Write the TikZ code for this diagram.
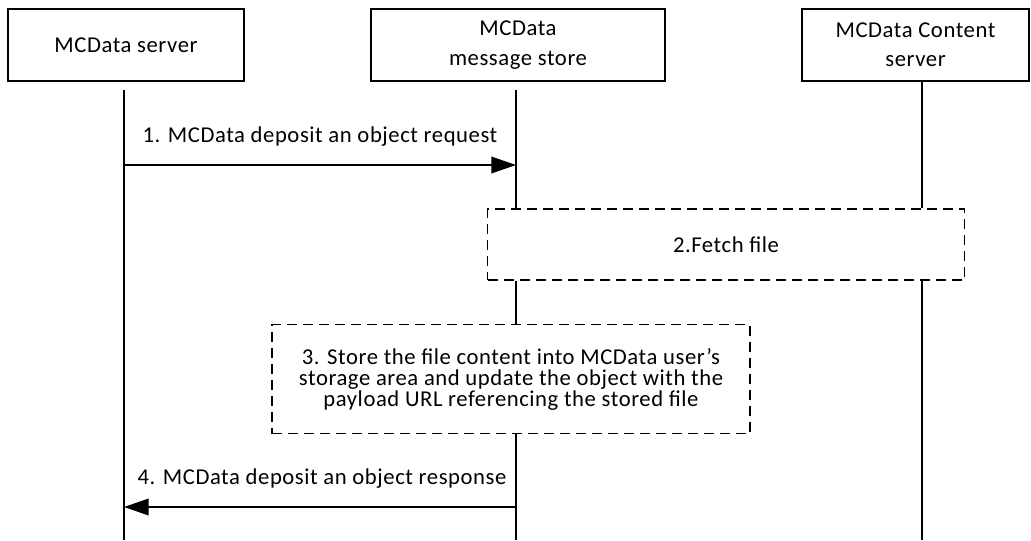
\documentclass[tikz,border=0pt]{standalone}
\usepackage{fontspec}
\setmainfont{Carlito}[LetterSpace=2.5]
\usetikzlibrary{arrows.meta}

\tikzset{
  actor/.style={draw, line width=1.1pt, align=center, inner sep=0pt,
    minimum height=54pt, font=\fontsize{17}{22}\selectfont},
  stepbox/.style={draw, line width=1.2pt, dash pattern=on 7.5pt off 4.5pt,
    align=center, inner sep=0pt, font=\fontsize{17}{15.75}\selectfont},
  life/.style={line width=1.1pt},
  msg/.style={line width=1.1pt, -{Triangle[length=18.5pt, width=12.5pt]}},
  lbl/.style={inner sep=0pt, font=\fontsize{17}{20}\selectfont}
}

\begin{document}
\begin{tikzpicture}[x=0.75pt, y=-0.75pt]
  \useasboundingbox (0,0) rectangle (1031,540);
  % participants
  \node[actor, minimum width=177pt] (srv) at (126,45) {MCData server};
  \node[actor, minimum width=220.5pt] (store) at (518,45) {MCData\\message store};
  \node[actor, minimum width=170pt] (cnt) at (915.5,45) {MCData Content\\server};
  % steps
  \node[stepbox, minimum width=357.75pt, minimum height=53.25pt] (fetch) at (726,244.5) {2.Fetch file};
  \node[stepbox, minimum width=358.5pt, minimum height=81.75pt] (keep) at (511,379)
    {3. Store the file content into MCData user’s\\storage area and update the object with the\\payload URL referencing the stored file};
  % lifelines
  \coordinate (a0) at (124,90);
  \coordinate (a1) at (124,540);
  \coordinate (b0) at (516,90);
  \coordinate (c0) at (922,81);
  \draw[life] (a0) -- (a1);
  \draw[life] (b0) -- (b0 |- fetch.north);
  \draw[life] (b0 |- fetch.south) -- (b0 |- keep.north);
  \draw[life] (b0 |- keep.south) -- (b0 |- a1);
  \draw[life] (c0) -- (c0 |- fetch.north);
  \draw[life] (c0 |- fetch.south) -- (c0 |- a1);
  % messages
  \node[lbl] (req) at (320,137) {1. MCData deposit an object request};
  \coordinate (r1) at (124,165);
  \coordinate (r2) at (516,165);
  \draw[msg] (r1) -- (r2);
  \node[lbl] (resp) at (322,479) {4. MCData deposit an object response};
  \coordinate (s1) at (516,507);
  \coordinate (s2) at (124,507);
  \draw[msg] (s1) -- (s2);
\end{tikzpicture}
\end{document}
